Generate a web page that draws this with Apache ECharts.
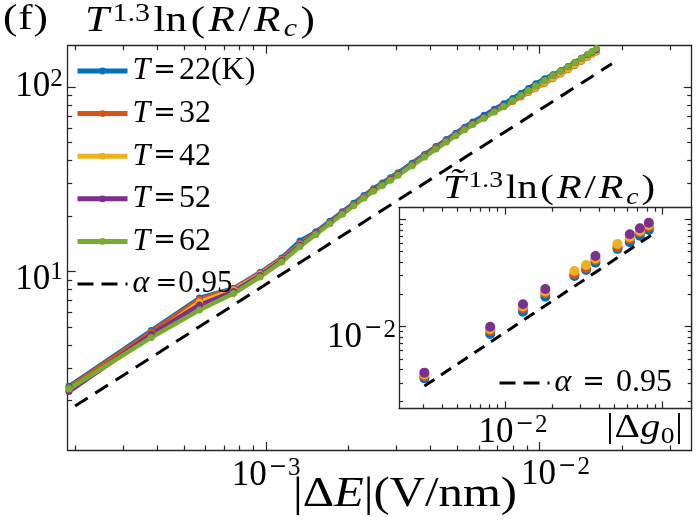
<!DOCTYPE html>
<html>
<head>
<meta charset="utf-8">
<script src="https://cdn.jsdelivr.net/npm/echarts@6/dist/echarts.min.js"></script>
<style>html,body{margin:0;padding:0;background:#fff}#c{width:700px;height:525px}</style>
</head>
<body>
<div id="c"></div>
<script>
// ---------------- data ----------------
// main panel: |ΔE| (V/nm)
const dE = [0.00019, 0.00038, 0.00057, 0.00076, 0.00095, 0.00114, 0.00133, 0.00152, 0.00171, 0.0019,
  0.00209, 0.00228, 0.00247, 0.00266, 0.00285, 0.00304, 0.00342, 0.0038, 0.00418, 0.00456,
  0.00494, 0.00532, 0.0057, 0.00627, 0.00684, 0.00741, 0.00798, 0.00855, 0.00912, 0.00969,
  0.01045, 0.01121, 0.01197, 0.01273, 0.01349, 0.01425, 0.01501, 0.01558, 0.01615];
const T22 = [2.39, 4.80, 7.20, 8.11, 9.90, 11.87, 14.67, 16.44, 18.76, 21.13, 23.49, 25.89, 28.19, 30.27, 32.33, 34.41,
  38.74, 43.24, 47.68, 52.01, 56.35, 60.68, 64.81, 70.38, 76.06, 81.27, 86.97, 92.56, 98.50, 104.45,
  111.1, 117.0, 123.0, 129.4, 136.5, 143.6, 150.5, 155.5, 160.5];
const T32 = [2.35, 4.71, 7.07, 8.06, 9.78, 11.72, 14.22, 16.23, 18.53, 20.86, 23.19, 25.57, 27.84, 29.89, 31.93, 33.97,
  38.25, 42.70, 47.08, 51.36, 55.64, 59.92, 63.4, 68.2, 73.7, 78.4, 83.6, 88.6, 93.7, 98.7,
  105.1, 111.3, 117.8, 124.2, 131.3, 138.3, 145.4, 151.0, 155.4];
const T42 = [2.27, 4.48, 6.85, 7.96, 9.66, 11.57, 14.04, 16.13, 18.41, 20.73, 23.04, 25.40, 27.66, 29.70, 31.72, 33.76,
  38.01, 42.42, 46.78, 51.03, 55.28, 59.54, 63.2, 68.2, 73.7, 78.9, 84.1, 89.2, 94.3, 99.4,
  105.9, 112.0, 118.5, 125.0, 132.1, 139.1, 146.3, 151.5, 156.2];
const T52 = [2.24, 4.57, 6.60, 7.81, 9.54, 11.50, 13.96, 16.13, 18.41, 20.73, 23.04, 25.40, 27.66, 29.70, 31.72, 33.76,
  38.01, 42.42, 46.78, 51.03, 55.28, 59.54, 63.6, 69.1, 74.6, 79.4, 84.6, 90.3, 96.1, 101.9,
  108.9, 115.6, 122.3, 129.0, 136.3, 143.6, 150.1, 154.7, 159.5];
const T62 = [2.31, 4.40, 6.20, 7.62, 9.36, 11.29, 13.70, 15.93, 18.18, 20.47, 22.76, 25.09, 27.32, 29.33, 31.33, 33.34,
  37.54, 41.9, 46.2, 50.4, 54.6, 58.8, 62.8, 68.2, 73.7, 78.9, 84.6, 90.3, 96.1, 101.9,
  108.9, 115.6, 122.3, 129.0, 136.3, 143.6, 151.0, 156.3, 161.9];
const fitE = [0.0002, 0.0184];
const fitV = [1.87, 134];

// inset: |Δg0|
const dg0 = [0.00307, 0.00806, 0.01303, 0.01808, 0.02769, 0.03287, 0.0377, 0.0521, 0.0624, 0.0723, 0.0825];
const in22 = [0.0033, 0.00855, 0.0138, 0.01904, 0.0297, 0.0338, 0.0395, 0.053, 0.0612, 0.0705, 0.0796];
const in32 = [0.00347, 0.00918, 0.01484, 0.02048, 0.031, 0.0352, 0.0418, 0.0553, 0.0657, 0.0758, 0.0855];
const in42 = [0.00359, 0.0095, 0.0154, 0.02128, 0.033, 0.0376, 0.0432, 0.059, 0.0685, 0.078, 0.0887];
const in52 = [0.00373, 0.01, 0.01617, 0.02245, null, null, 0.0456, null, 0.0726, 0.0826, 0.0931];
const fitG = [0.00307, 0.0858];
const fitGV = [0.0028, 0.0715];

const seriesNames = ['T=22(K)', 'T=32', 'T=42', 'T=52', 'T=62'];

// tick values
const mainXMajor = [0.001, 0.01];
const mainXMinor = [2e-4, 3e-4, 4e-4, 5e-4, 6e-4, 7e-4, 8e-4, 9e-4, 2e-3, 3e-3, 4e-3, 5e-3, 6e-3, 7e-3, 8e-3, 9e-3, 2e-2, 3e-2];
const mainYMajor = [10, 100];
const mainYMinor = [2, 3, 4, 5, 6, 7, 8, 9, 20, 30, 40, 50, 60, 70, 80, 90];
const insXMajor = [0.01, 0.1];
const insXMinor = [3e-3, 4e-3, 5e-3, 6e-3, 7e-3, 8e-3, 9e-3, 2e-2, 3e-2, 4e-2, 5e-2, 6e-2, 7e-2, 8e-2, 9e-2];
const insYMajor = [0.01, 0.1];
const insYMinor = [2e-3, 3e-3, 4e-3, 5e-3, 6e-3, 7e-3, 8e-3, 9e-3, 2e-2, 3e-2, 4e-2, 5e-2, 6e-2, 7e-2, 8e-2, 9e-2];

// ---------------- styling ----------------
const colors = ['#0072BD', '#D95319', '#EDB120', '#7E2F8E', '#77AC30'];
const F = "'Liberation Serif', serif";
const FM = "'DejaVu Serif', serif";
const AX = '#262626';

const tickRich = {
  b: {fontFamily: F, fontSize: 35, lineHeight: 40, verticalAlign: 'middle', color: '#000'},
  s: {fontFamily: F, fontSize: 25, lineHeight: 18, verticalAlign: 'top', color: '#000'},
  m: {fontFamily: FM, fontSize: 22, lineHeight: 18, verticalAlign: 'top', color: '#000', padding: [0, 1, 0, 2]}
};
function expLabel(v) {
  const e = Math.round(Math.log10(v));
  return e < 0 ? '{b|10}{m|−}{s|' + (-e) + '}' : '{b|10}{s|' + e + '}';
}

function logAxis(o) {
  const isX = o.pos === 'bottom' || o.pos === 'top';
  return {
    type: 'log', logBase: 10, gridIndex: o.grid, position: o.pos, min: o.min, max: o.max, z: o.z || 0,
    axisLine: {show: !!o.line, onZero: false, lineStyle: {color: AX, width: 1.3}},
    axisTick: {show: true, inside: true, length: o.len, customValues: o.ticks, lineStyle: {color: AX, width: 1.2}},
    minorTick: {show: false},
    splitLine: {show: false},
    minorSplitLine: {show: false},
    axisPointer: {show: false},
    axisLabel: o.labels ? {
      show: true, customValues: o.labels, formatter: expLabel, margin: o.margin,
      align: isX ? 'center' : 'right', verticalAlign: isX ? 'top' : 'middle',
      hideOverlap: false,
      padding: o.pad || 0, rich: tickRich, color: '#000'
    } : {show: false}
  };
}

const MX = [1.88e-4, 0.03604], MY = [1.08, 167.9];
const IX = [2.116e-3, 0.1546], IY = [1.736e-3, 0.1285];

const xAxes = [
  logAxis({grid: 0, pos: 'bottom', min: MX[0], max: MX[1], line: true, len: 8, ticks: mainXMajor, labels: [0.001], margin: 6}),
  logAxis({grid: 0, pos: 'top', min: MX[0], max: MX[1], line: true, len: 8, ticks: mainXMajor}),
  logAxis({grid: 0, pos: 'bottom', min: MX[0], max: MX[1], len: 4.5, ticks: mainXMinor, labels: [0.01], margin: 5, pad: [0, 0, 0, 32]}),
  logAxis({grid: 0, pos: 'top', min: MX[0], max: MX[1], len: 4.5, ticks: mainXMinor}),
  logAxis({grid: 1, pos: 'bottom', min: IX[0], max: IX[1], line: true, len: 7, ticks: insXMajor, labels: [0.01], margin: 5, pad: [0, 0, 0, 16], z: 6}),
  logAxis({grid: 1, pos: 'top', min: IX[0], max: IX[1], line: true, len: 7, ticks: insXMajor, z: 6}),
  logAxis({grid: 1, pos: 'bottom', min: IX[0], max: IX[1], len: 4, ticks: insXMinor, z: 6}),
  logAxis({grid: 1, pos: 'top', min: IX[0], max: IX[1], len: 4, ticks: insXMinor, z: 6})
];
const yAxes = [
  logAxis({grid: 0, pos: 'left', min: MY[0], max: MY[1], line: true, len: 8, ticks: mainYMajor, labels: [100], margin: 5}),
  logAxis({grid: 0, pos: 'right', min: MY[0], max: MY[1], line: true, len: 8, ticks: mainYMajor}),
  logAxis({grid: 0, pos: 'left', min: MY[0], max: MY[1], len: 4.5, ticks: mainYMinor, labels: [10], margin: 5, pad: [17, 0, 0, 0]}),
  logAxis({grid: 0, pos: 'right', min: MY[0], max: MY[1], len: 4.5, ticks: mainYMinor}),
  logAxis({grid: 1, pos: 'left', min: IY[0], max: IY[1], line: true, len: 7, ticks: insYMajor, labels: [0.01], margin: 3, pad: [22, 0, 0, 0], z: 6}),
  logAxis({grid: 1, pos: 'right', min: IY[0], max: IY[1], line: true, len: 7, ticks: insYMajor, z: 6}),
  logAxis({grid: 1, pos: 'left', min: IY[0], max: IY[1], len: 4, ticks: insYMinor, z: 6}),
  logAxis({grid: 1, pos: 'right', min: IY[0], max: IY[1], len: 4, ticks: insYMinor, z: 6})
];

// ---------------- series ----------------
const mainVals = [T22, T32, T42, T52, T62];
const insVals = [in22, in32, in42, in52];
const series = [];
mainVals.forEach((vals, i) => {
  series.push({
    name: seriesNames[i], type: 'line', xAxisIndex: 0, yAxisIndex: 0,
    data: dE.map((x, j) => [x, vals[j]]),
    symbol: 'circle', symbolSize: 7, showAllSymbol: true,
    lineStyle: {width: 4.5, color: colors[i]}, itemStyle: {color: colors[i]},
    emphasis: {disabled: true}, z: 2
  });
});
series.push({
  name: 'fitMain', type: 'line', xAxisIndex: 0, yAxisIndex: 0,
  data: fitE.map((x, j) => [x, fitV[j]]), symbol: 'none',
  lineStyle: {width: 3, color: '#000', type: [15, 9]}, itemStyle: {color: '#000'},
  emphasis: {disabled: true}, z: 3
});
insVals.forEach((vals, i) => {
  series.push({
    name: 'inset ' + seriesNames[i], type: 'scatter', xAxisIndex: 4, yAxisIndex: 4,
    data: dg0.map((x, j) => [x, vals[j]]).filter(p => p[1] != null),
    symbol: 'circle', symbolSize: 10, itemStyle: {color: colors[i], opacity: 1},
    emphasis: {disabled: true}, z: 7
  });
});
series.push({
  name: 'fitInset', type: 'line', xAxisIndex: 4, yAxisIndex: 4,
  data: fitG.map((x, j) => [x, fitGV[j]]), symbol: 'none',
  lineStyle: {width: 3, color: '#000', type: [12, 8]}, itemStyle: {color: '#000'},
  emphasis: {disabled: true}, z: 8
});

// ---------------- legends ----------------
const legRich = {
  i: {fontFamily: F, fontStyle: 'italic', fontSize: 32, lineHeight: 30, verticalAlign: 'middle', color: '#000'},
  n: {fontFamily: F, fontSize: 32, lineHeight: 30, verticalAlign: 'middle', color: '#000'},
  d: {fontFamily: F, fontSize: 31, lineHeight: 30, verticalAlign: 'middle', color: '#000'},
  e: {fontFamily: FM, fontSize: 27, lineHeight: 30, verticalAlign: 'middle', color: '#000', padding: [0, 3, 0, 3]},
  e2: {fontFamily: FM, fontSize: 26, lineHeight: 30, verticalAlign: 'middle', color: '#000', padding: [0, 1, 0, 0]}
};
const legText = {
  'T=22(K)': '{i|T}{e|=}{n|22(K)}',
  'T=32': '{i|T}{e|=}{n|32}',
  'T=42': '{i|T}{e|=}{n|42}',
  'T=52': '{i|T}{e|=}{n|52}',
  'T=62': '{i|T}{e|=}{n|62}',
  'fitMain': '{i|α}{d|\u2009}{e2|=}{d|0.95}',
  'fitInset': '{i|α}{n| }{e|=}{n| 0.95}'
};
const dashLegend = {lineStyle: {width: 3, type: [16, 8], color: '#000'}, itemStyle: {opacity: 0}};

// ---------------- free texts ----------------
const cv = document.createElement('canvas').getContext('2d');
function measure(t, s) {
  cv.font = (s.fontStyle || 'normal') + ' normal ' + s.fontSize + 'px ' + s.fontFamily;
  return cv.measureText(t).width;
}
function mkRich(big, small, supH, subH) {
  return {
    i: {fontFamily: F, fontStyle: 'italic', fontSize: big, lineHeight: 40, verticalAlign: 'middle', color: '#000'},
    n: {fontFamily: F, fontSize: big, lineHeight: 40, verticalAlign: 'middle', color: '#000'},
    s: {fontFamily: F, fontSize: small, lineHeight: supH || 27, verticalAlign: 'top', color: '#000'},
    si: {fontFamily: F, fontStyle: 'italic', fontSize: small, lineHeight: subH || 20, verticalAlign: 'bottom', color: '#000'},
    sn: {fontFamily: F, fontSize: small, lineHeight: subH || 20, verticalAlign: 'bottom', color: '#000'}
  };
}
// parts: [[styleKey, text], ...]; widened a little to reach the reference width
function txt(parts, base, x, y, targetW) {
  let w = 0;
  parts.forEach(p => { w += measure(p[1], base[p[0]]); });
  const sx = Math.max(1, Math.min(1.2, targetW / w));
  const extra = Math.max(0, targetW / sx - w);
  const gap = parts.length > 1 ? extra / (parts.length - 1) : 0;
  const rich = {};
  let str = '';
  parts.forEach((p, k) => {
    const st = Object.assign({}, base[p[0]]);
    if (k < parts.length - 1) st.padding = [0, gap, 0, 0];
    rich['t' + k] = st;
    str += '{t' + k + '|' + p[1] + '}';
  });
  return {
    type: 'text', x: x, y: y, scaleX: sx, z: 100, silent: true,
    style: {x: 0, y: 0, text: str, rich: rich, align: 'left', verticalAlign: 'middle',
      textAlign: 'left', textVerticalAlign: 'middle', fill: '#000'}
  };
}
const rTitle = mkRich(36, 25);
const rInset = mkRich(34, 23);
const rF = mkRich(36, 25);
const rX = mkRich(42, 28);
const rG = mkRich(33, 23, 27, 22);
const titleParts = [['i', 'T'], ['s', '1.3'], ['n', 'ln'], ['n', '('], ['i', 'R'], ['n', '/'], ['i', 'R'], ['si', 'c'], ['n', ')']];
const insetParts = [['i', 'T\u0303'], ['s', '1.3'], ['n', 'ln'], ['n', '('], ['i', 'R'], ['n', '/'], ['i', 'R'], ['si', 'c'], ['n', ')']];
const graphics = [
  txt([['n', '('], ['n', 'f'], ['n', ')']], rF, 3, 20, 45),
  txt(titleParts, rTitle, 85, 22, 230),
  txt(insetParts, rInset, 443, 189, 212),
  txt([['n', '|Δ'], ['i', 'E'], ['n', '|('], ['n', 'V'], ['n', '/'], ['n', 'nm'], ['n', ')']], rX, 293, 495, 224),
  txt([['n', '|'], ['n', 'Δ'], ['i', 'g'], ['sn', '0'], ['n', '|']], rG, 606, 428, 77)
];

const option = {
  animation: false,
  backgroundColor: '#fff',
  grid: [
    {left: 67.7, right: 8.3, top: 45.7, bottom: 75, containLabel: false, outerBoundsMode: 'none'},
    {left: 399, right: 8.3, top: 207.7, bottom: 116.7, containLabel: false, outerBoundsMode: 'none',
      show: true, backgroundColor: '#fff', borderWidth: 0, z: 5}
  ],
  xAxis: xAxes,
  yAxis: yAxes,
  legend: [
    {
      data: seriesNames.map(n => ({name: n, lineStyle: {width: 5}})).concat([Object.assign({name: 'fitMain'}, dashLegend)]),
      orient: 'vertical', left: 75, top: 55, padding: 0,
      itemWidth: 50, itemHeight: 8.5, itemGap: 10.6, selectedMode: false,
      formatter: n => legText[n], textStyle: {rich: legRich, fontFamily: F, fontSize: 32, color: '#000'}
    },
    {
      data: [Object.assign({name: 'fitInset'}, dashLegend)], orient: 'vertical', left: 498, top: 367, padding: 0, z: 9,
      itemWidth: 50, itemHeight: 8.5, selectedMode: false,
      formatter: n => legText[n], textStyle: {rich: legRich, fontFamily: F, fontSize: 32, color: '#000'}
    }
  ],
  graphic: graphics,
  series: series
};
const chart = echarts.init(document.getElementById('c'), null, {renderer: 'canvas'});
chart.setOption(option);
</script>
</body>
</html>
